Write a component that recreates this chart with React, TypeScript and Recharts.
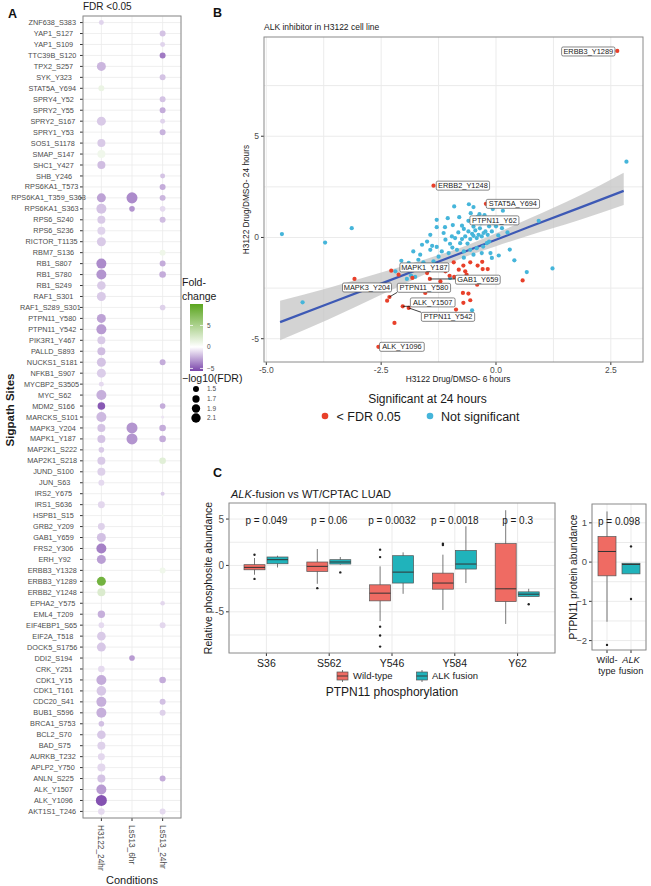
import React from "react"
import {
  ScatterChart,
  Scatter,
  ComposedChart,
  Area,
  Line,
  Bar,
  XAxis,
  YAxis,
  ZAxis,
  CartesianGrid,
  Cell,
  ReferenceDot,
} from "recharts"

const FONT = "'Liberation Sans', Arial, Helvetica, sans-serif"
const GRID = "#ebebeb"
const BORDER = "#8a8a8a"
const TICK_TEXT = "#4d4d4d"
const SIG_RED = "#e8402a"
const NS_CYAN = "#45b5da"
const WT_COLOR = "#ef6b63"
const ALK_COLOR = "#20b3bb"

// ---------------- A: sigpath sites by condition ----------------
const conditions = ["H3122_24hr", "Ls513_6hr", "Ls513_24hr"]

const sites = [
  "ZNF638_S383", "YAP1_S127", "YAP1_S109", "TTC39B_S120", "TPX2_S257",
  "SYK_Y323", "STAT5A_Y694", "SPRY4_Y52", "SPRY2_Y55", "SPRY2_S167",
  "SPRY1_Y53", "SOS1_S1178", "SMAP_S147", "SHC1_Y427", "SHB_Y246",
  "RPS6KA1_T573", "RPS6KA1_T359_S363", "RPS6KA1_S363", "RPS6_S240", "RPS6_S236",
  "RICTOR_T1135", "RBM7_S136", "RB1_S807", "RB1_S780", "RB1_S249",
  "RAF1_S301", "RAF1_S289_S301", "PTPN11_Y580", "PTPN11_Y542", "PIK3R1_Y467",
  "PALLD_S893", "NUCKS1_S181", "NFKB1_S907", "MYCBP2_S3505", "MYC_S62",
  "MDM2_S166", "MARCKS_S101", "MAPK3_Y204", "MAPK1_Y187", "MAP2K1_S222",
  "MAP2K1_S218", "JUND_S100", "JUN_S63", "IRS2_Y675", "IRS1_S636",
  "HSPB1_S15", "GRB2_Y209", "GAB1_Y659", "FRS2_Y306", "ERH_Y92",
  "ERBB3_Y1328", "ERBB3_Y1289", "ERBB2_Y1248", "EPHA2_Y575", "EML4_T209",
  "EIF4EBP1_S65", "EIF2A_T518", "DOCK5_S1756", "DDI2_S194", "CRK_Y251",
  "CDK1_Y15", "CDK1_T161", "CDC20_S41", "BUB1_S596", "BRCA1_S753",
  "BCL2_S70", "BAD_S75", "AURKB_T232", "APLP2_Y750", "ANLN_S225",
  "ALK_Y1507", "ALK_Y1096", "AKT1S1_T246",
]

// fold-change per site (null = not significant)
const h3122FC = [
  -1.3, null, null, null, -2.2,
  null, 1.2, null, null, -1.6,
  null, -1.6, 0.9, -2.0, null,
  null, -2.8, -1.8, -1.6, -1.3,
  -1.6, null, -3.5, -3.2, -1.6,
  -1.6, null, -2.8, -3.0, -1.6,
  -2.0, -1.8, -1.5, -1.1, -2.4,
  -5.0, -2.1, -1.8, -1.8, -1.6,
  -1.6, -1.4, -1.1, null, -1.2,
  null, -1.4, -1.9, -3.8, -2.9,
  null, 8.5, 2.2, null, -2.4,
  -1.1, -1.6, -1.7, null, -1.1,
  -2.5, -1.7, -2.4, -2.4, -1.9,
  -1.7, -1.4, -1.2, -1.2, -1.8,
  -3.0, -5.2, -1.1,
]
// -log10(FDR)
const h3122Size = [
  1.37, null, null, null, 2.03,
  null, 1.5, null, null, 2.03,
  null, 1.83, 1.83, 1.83, null,
  null, 2.03, 2.25, 1.83, 1.83,
  2.03, null, 2.25, 2.25, 1.95,
  2.03, null, 2.03, 2.25, 1.83,
  1.83, 2.03, 2.03, 1.37, 2.25,
  1.76, 2.25, 1.83, 1.83, 1.45,
  1.83, 1.83, 1.5, null, 1.65,
  null, 1.65, 2.03, 2.25, 2.03,
  null, 2.03, 1.83, null, 1.72,
  1.45, 1.95, 2.03, null, 1.59,
  2.25, 2.16, 2.25, 2.25, 1.45,
  1.95, 1.83, 1.65, 1.83, 1.83,
  2.25, 2.5, 1.59,
]
const ls6FC = [
  null, null, null, null, null,
  null, null, null, null, null,
  null, null, null, null, null,
  null, -3.5, -3.2, null, null,
  null, null, null, null, null,
  null, null, null, null, null,
  null, null, null, null, null,
  null, null, -3.2, -3.2, null,
  null, null, null, null, null,
  null, null, null, null, null,
  null, null, null, null, null,
  null, null, null, -3.0, null,
  null, null, null, null, null,
  null, null, null, null, null,
  null, null, null,
]
const ls6Size = [
  null, null, null, null, null,
  null, null, null, null, null,
  null, null, null, null, null,
  null, 2.5, 1.45, null, null,
  null, null, null, null, null,
  null, null, null, null, null,
  null, null, null, null, null,
  null, null, 2.5, 2.5, null,
  null, null, null, null, null,
  null, null, null, null, null,
  null, null, null, null, null,
  null, null, null, 1.45, null,
  null, null, null, null, null,
  null, null, null, null, null,
  null, null, null,
]
const ls24FC = [
  null, -1.8, -1.3, -4.0, null,
  -1.8, null, -1.8, -2.5, -1.3,
  -2.3, null, null, null, -1.8,
  -2.5, -2.2, -1.1, -2.0, null,
  null, 1.0, -2.5, -2.5, null,
  null, -1.4, null, null, null,
  null, -2.5, null, null, null,
  -2.5, -0.8, -2.5, -2.5, null,
  1.8, null, null, -1.5, null,
  0.5, null, null, null, null,
  0.9, null, null, -1.2, null,
  -1.2, null, null, null, null,
  -2.5, null, -1.9, -1.4, null,
  null, null, null, null, -2.5,
  null, null, -1.1,
]
const ls24Size = [
  null, 1.5, 1.37, 1.5, null,
  1.5, null, 1.5, 1.5, 1.37,
  1.5, null, null, null, 1.37,
  1.5, 1.5, 1.45, 1.5, null,
  null, 1.5, 1.5, 1.59, null,
  null, 1.45, null, null, null,
  null, 1.5, null, null, null,
  1.45, 1.19, 1.59, 1.59, null,
  1.59, null, null, 1.27, null,
  1.13, null, null, null, null,
  1.5, null, null, 1.33, null,
  1.5, null, null, null, null,
  1.59, null, 1.5, 1.5, null,
  null, null, null, null, 1.5,
  null, null, 1.5,
]
const sizeLegend = [1.5, 1.7, 1.9, 2.1]
const fcLegend = [5, 0, -5]

// ---------------- B: 6h vs 24h scatter ----------------
const sigPoints = [
  [2.64, 9.21], [-1.36, 2.56], [-0.22, 1.66], [-3.08, -2.05], [-2.28, -1.64],
  [-2.12, -1.84], [-2.37, -3.12], [-2.32, -2.94], [-2.03, -3.4], [-1.9, -3.48],
  [-2.21, -4.22], [-2.56, -5.4], [-1.5, -1.76], [-1.44, -2.05], [-1.82, -2.0],
  [-1.21, -2.17], [-1.07, -1.56], [-1.01, -1.89], [-0.91, -1.95], [-0.81, -1.59],
  [-0.71, -1.39], [-0.67, -1.67], [-0.64, -1.84], [-0.56, -1.23], [-0.4, -1.39],
  [-0.3, -1.2], [-0.29, -1.56], [-0.18, -1.56], [-0.41, -2.33], [-0.72, -2.74],
  [-0.6, -2.77], [-0.71, -3.23], [-0.56, -3.1], [-0.87, -3.56], [0.58, -2.12],
  [-1.54, -2.74], [-1.2, -1.59], [-0.92, -1.23], [-1.1, -1.67],
]
const nsPoints = [
  [-4.66, 0.17], [-3.72, -0.25], [-3.14, 0.46], [-4.21, -3.2], [2.84, 3.74],
  [-0.91, 1.53], [-0.59, 1.64], [-0.49, 1.5], [-0.36, 1.15], [-0.07, 1.4], [0.15, 1.32],
  [-1.29, 0.87], [-0.6, 0.82], [-1.29, 0.51], [-1.11, 0.51], [-0.94, 0.61], [-0.74, 0.58],
  [-0.49, 0.54], [-0.33, 0.7], [-0.05, 0.71], [0.13, 0.46], [-0.23, 0.3], [-0.09, 0.3],
  [0.93, 0.82], [-0.2, 0.87], [-1.1, -0.11], [-0.89, -0.03], [-0.74, -0.08], [-0.67, 0.05],
  [-0.56, -0.08], [-0.49, 0.08], [-0.42, -0.03], [-0.38, 0.13], [-0.31, 0.05], [-0.27, 0.22],
  [-0.18, 0.13], [-0.2, -0.28], [-0.78, -0.28], [-1.0, -0.31], [-1.39, -0.41], [-1.61, -0.36],
  [-1.43, -0.61], [-1.65, -0.85], [-1.8, -0.69], [-1.18, -0.69], [-1.03, -0.77], [-0.85, -0.61],
  [-0.7, -0.69], [-0.56, -0.61], [-0.49, -0.85], [-0.42, -0.53], [-0.31, -0.77], [-0.12, -0.77],
  [-0.09, -1.01], [0.06, -0.89], [0.4, -1.13], [0.67, -1.71], [1.23, -1.53], [-2.06, -1.15],
  [-1.58, -1.23], [-1.36, -1.18], [-2.19, -1.67], [-1.94, -2.05], [-1.76, -1.95], [-1.0, -2.0],
  [-0.52, -3.6], [-1.43, 0.13], [-1.14, 0.22], [-0.96, 0.05], [-1.29, -0.47], [-1.9, -1.26],
  [-1.69, -1.1], [-1.85, -1.88], [-0.82, 0.25], [-0.6, 0.3], [-0.45, 0.35], [-0.35, 0.45],
  [-0.15, 0.55], [0.05, 0.1], [-0.7, 0.42], [-0.52, 0.18], [-0.62, -0.3], [-0.28, -0.45],
  [-0.95, -0.5], [-1.25, -0.95], [-0.15, -0.2], [0.25, 0.25], [-0.8, 1.0], [-1.05, 0.95],
  [-0.4, 1.02], [0.3, -0.6], [-0.55, 1.2], [-0.7, -1.0], [-1.5, -0.2], [0.0, 0.55], [-0.25, 1.1],
]
const labelledSites = [
  "ERBB3_Y1289", "ERBB2_Y1248", "STAT5A_Y694", "PTPN11_Y62", "MAPK1_Y187", "MAPK3_Y204",
  "GAB1_Y659", "PTPN11_Y580", "ALK_Y1507", "PTPN11_Y542", "ALK_Y1096",
]
const labelledX = [2.64, -1.36, -0.22, -0.6, -2.12, -3.08, -1.44, -2.32, -2.03, -1.9, -2.56]
const labelledY = [9.21, 2.56, 1.66, 0.82, -1.84, -2.05, -2.05, -2.94, -3.4, -3.48, -5.4]

// linear fit with 95% band
const fitX = [-4.7, -3.65, -2.5, -1.5, -0.8, 0, 0.7, 1.8, 2.78]
const fitY = [-4.18, -3.27, -2.28, -1.41, -0.8, -0.11, 0.5, 1.45, 2.3]
const fitLow = [-5.08, -4.05, -2.83, -1.77, -1.07, -0.43, 0.09, 0.85, 1.6]
const fitHigh = [-3.12, -2.49, -1.73, -1.05, -0.53, 0.21, 0.91, 2.05, 3.2]

// ---------------- C: CPTAC boxplots ----------------
const phosphoSites = ["S36", "S562", "Y546", "Y584", "Y62"]
// [lower whisker, q1, median, q3, upper whisker]
const wildTypeStats = [
  [-1.0, -0.47, -0.21, 0.08, 0.8],
  [-1.98, -0.65, -0.1, 0.37, 1.77],
  [-6.0, -3.82, -2.99, -2.09, -0.1],
  [-4.8, -2.56, -1.9, -0.83, 1.16],
  [-6.31, -3.9, -2.52, 2.35, 5.95],
]
const wildTypeOutliers = [[1.15, -1.45], [-2.45], [1.7, 0.9, -6.6, -7.55, -8.75], [2.35, 2.2], []]
const fusionStats = [
  [-0.22, 0.18, 0.62, 0.91, 1.05],
  [0.08, 0.15, 0.37, 0.62, 0.91],
  [-3.06, -1.9, -0.72, 1.05, 1.41],
  [-1.9, -0.39, 0.15, 1.62, 4.22],
  [-3.35, -3.35, -3.1, -2.85, -2.52],
]
const fusionOutliers = [[], [-0.75], [], [], [-4.18]]
const pValues = ["p = 0.049", "p = 0.06", "p = 0.0032", "p = 0.0018", "p = 0.3"]

const proteinGroups = ["Wild-type", "ALK fusion"]
const proteinStats = [
  [-1.52, -0.35, 0.27, 0.65, 1.29],
  [-0.3, -0.3, -0.06, -0.03, -0.03],
]
const proteinOutliers = [[-2.11], [0.4, -0.94]]
const proteinP = "p = 0.098"

// plot boxes (page pixels)
const A_BOX = { x: 83, y: 16, w: 98, h: 802 }
const B_BOX = { x: 264, y: 37, w: 379, h: 325 }
const C_BOX = { x: 229, y: 503, w: 326, h: 150 }
const P_BOX = { x: 592, y: 504, w: 54, h: 146 }

// fold-change colour scale: purple - white - green
const PURPLE = [122, 69, 171]
const GREEN = [90, 165, 30]
const FC_MIN = -5.6
const FC_MAX = 10
function fcColor(fc: number) {
  const end = fc < 0 ? PURPLE : GREEN
  const t = fc < 0 ? Math.min(1, fc / FC_MIN) : Math.min(1, fc / FC_MAX)
  const c = end.map((e) => Math.round(255 + (e - 255) * t))
  return `rgb(${c.join(",")})`
}

// size scale (-log10 FDR -> symbol area)
const SIZE_DOMAIN = [1.1, 2.6]
const SIZE_RANGE = [1.35, 101.8]
function sizeRadius(v: number) {
  const area = SIZE_RANGE[0] + ((v - SIZE_DOMAIN[0]) / (SIZE_DOMAIN[1] - SIZE_DOMAIN[0])) * (SIZE_RANGE[1] - SIZE_RANGE[0])
  return Math.sqrt(area / Math.PI)
}

const fcSets = [h3122FC, ls6FC, ls24FC]
const sizeSets = [h3122Size, ls6Size, ls24Size]
const dotData: { col: number; row: number; fc: number; size: number }[] = []
fcSets.forEach((fcs, c) => {
  fcs.forEach((fc, r) => {
    if (fc !== null) dotData.push({ col: c + 1, row: r + 1, fc, size: sizeSets[c][r] as number })
  })
})

function SiteTick(props: any) {
  const label = sites[props.payload.value - 1]
  const w = label.length * 4.4
  return (
    <text x={props.x - 19 - 0.14 * w} y={props.y} dy="0.35em" textAnchor="middle" fontSize={7.3} fill={TICK_TEXT}>
      {label}
    </text>
  )
}

function ConditionTick(props: any) {
  const y = props.y + 1
  return (
    <text
      x={props.x}
      y={y}
      transform={`rotate(90 ${props.x} ${y})`}
      textAnchor="start"
      dominantBaseline="central"
      fontSize={8.3}
      fill={TICK_TEXT}
    >
      {conditions[props.payload.value - 1]}
    </text>
  )
}

function DotPlot() {
  return (
    <ScatterChart width={190} height={886} margin={{ top: A_BOX.y, right: 190 - A_BOX.x - A_BOX.w, left: 0, bottom: 0 }}>
      <CartesianGrid stroke={GRID} strokeWidth={0.8} />
      <XAxis
        type="number"
        dataKey="col"
        domain={[0.4, 3.6]}
        ticks={[1, 2, 3]}
        interval={0}
        allowDataOverflow
        height={886 - A_BOX.y - A_BOX.h}
        tickSize={3}
        tickMargin={3}
        axisLine={false}
        tickLine={{ stroke: "#333" }}
        tick={<ConditionTick />}
      />
      <YAxis
        type="number"
        dataKey="row"
        domain={[0.4, sites.length + 0.6]}
        ticks={sites.map((_, i) => i + 1)}
        interval={0}
        reversed
        allowDataOverflow
        width={A_BOX.x}
        tickSize={3}
        axisLine={false}
        tickLine={{ stroke: "#333" }}
        tick={<SiteTick />}
      />
      <ZAxis type="number" dataKey="size" domain={SIZE_DOMAIN} range={SIZE_RANGE} />
      <Scatter data={dotData} isAnimationActive={false}>
        {dotData.map((d, i) => (
          <Cell key={i} fill={fcColor(d.fc)} />
        ))}
      </Scatter>
    </ScatterChart>
  )
}

// ---------------- B ----------------
const bandRows = fitX.map((x, i) => ({ x, band: [fitLow[i], fitHigh[i]], fit: fitY[i] }))
const sigData = sigPoints.map(([x, y]) => ({ x, y }))
const nsData = nsPoints.map(([x, y]) => ({ x, y }))
const labelData = labelledSites.map((site, i) => ({ site, x: labelledX[i], y: labelledY[i] }))

// label box offsets from the point (px)
const labelOffsets: Record<string, [number, number]> = {
  ERBB3_Y1289: [-29, 0.5],
  ERBB2_Y1248: [29.4, 0],
  STAT5A_Y694: [27, 0],
  PTPN11_Y62: [26, -0.5],
  MAPK1_Y187: [25.8, -7.3],
  MAPK3_Y204: [12.5, 8.5],
  GAB1_Y659: [48, 0.7],
  PTPN11_Y580: [34.5, -9.2],
  ALK_Y1507: [30, -3.9],
  PTPN11_Y542: [39.3, 8.9],
  ALK_Y1096: [23.5, 0],
}

function SiteLabel(props: any) {
  const name = props.payload.site
  const [dx, dy] = labelOffsets[name]
  const w = name.length * 4.3 + 6
  const h = 9
  const bx = props.cx + dx
  const by = props.cy + dy
  const ex = Math.max(bx - w / 2, Math.min(props.cx, bx + w / 2))
  const ey = Math.max(by - h / 2, Math.min(props.cy, by + h / 2))
  const seg = Math.hypot(ex - props.cx, ey - props.cy) > 4
  return (
    <g>
      {seg && <line x1={props.cx} y1={props.cy} x2={ex} y2={ey} stroke="#111" strokeWidth={0.8} />}
      <rect x={bx - w / 2} y={by - h / 2} width={w} height={h} rx={1.5} fill="#fff" stroke="#555" strokeWidth={0.7} />
      <text x={bx} y={by} dy="0.35em" textAnchor="middle" fontSize={7.4} fill="#1a1a1a">
        {name}
      </text>
    </g>
  )
}

function TimeScatter() {
  const W = 451
  const H = 380
  return (
    <ComposedChart
      width={W}
      height={H}
      data={bandRows}
      margin={{ top: B_BOX.y - 20, right: W - (B_BOX.x - 200) - B_BOX.w, left: 0, bottom: 0 }}
    >
      <CartesianGrid
        stroke={GRID}
        verticalValues={[-5, -3.75, -2.5, -1.25, 0, 1.25, 2.5]}
        horizontalValues={[-5, -2.5, 0, 2.5, 5, 7.5]}
      />
      <XAxis
        type="number"
        dataKey="x"
        domain={[-5.05, 3.2]}
        ticks={[-5, -2.5, 0, 2.5]}
        tickFormatter={(v: number) => v.toFixed(1)}
        allowDataOverflow
        height={H - (B_BOX.y - 20) - B_BOX.h}
        tickSize={3}
        tickMargin={2}
        axisLine={false}
        tickLine={{ stroke: "#333" }}
        tick={{ fontSize: 8.5, fill: TICK_TEXT }}
      />
      <YAxis
        type="number"
        domain={[-6.15, 9.9]}
        ticks={[-5, 0, 5]}
        allowDataOverflow
        width={B_BOX.x - 200}
        tickSize={3}
        tickMargin={2}
        axisLine={false}
        tickLine={{ stroke: "#333" }}
        tick={{ fontSize: 8.5, fill: TICK_TEXT }}
      />
      <ZAxis range={[14, 14]} />
      <Area dataKey="band" type="monotone" stroke="none" fill="#c4c4c4" fillOpacity={0.75} isAnimationActive={false} />
      <Line dataKey="fit" type="linear" stroke="#3d59b5" strokeWidth={2.2} dot={false} isAnimationActive={false} />
      <Scatter data={nsData} dataKey="y" fill={NS_CYAN} isAnimationActive={false} />
      <Scatter data={sigData} dataKey="y" fill={SIG_RED} isAnimationActive={false} />
      <Scatter data={labelData} dataKey="y" shape={<SiteLabel />} isAnimationActive={false} />
    </ComposedChart>
  )
}

// ---------------- C ----------------
const boxShape = (statsKey: string, outKey: string, color: string | ((i: number) => string)) => (p: any) => {
  const [lw, q1, med, q3, uw] = p.payload[statsKey]
  const top = Math.min(p.y, p.y + p.height)
  const bottom = Math.max(p.y, p.y + p.height)
  const k = (bottom - top) / (q3 - q1)
  const yOf = (v: number) => top + (q3 - v) * k
  const cx = p.x + p.width / 2
  const fill = typeof color === "string" ? color : color(p.index)
  return (
    <g>
      <line x1={cx} x2={cx} y1={yOf(uw)} y2={yOf(lw)} stroke="#555" strokeWidth={0.8} />
      <rect x={p.x} y={top} width={p.width} height={Math.max(bottom - top, 0.5)} fill={fill} stroke="#555" strokeWidth={0.7} />
      <line x1={p.x} x2={p.x + p.width} y1={yOf(med)} y2={yOf(med)} stroke="#333" strokeWidth={1} />
      {p.payload[outKey].map((v: number, i: number) => (
        <circle key={i} cx={cx} cy={yOf(v)} r={1.2} fill="#222" />
      ))}
    </g>
  )
}

const phosphoRows = phosphoSites.map((site, i) => ({
  site,
  wt: wildTypeStats[i],
  wtOut: wildTypeOutliers[i],
  wtBox: [wildTypeStats[i][1], wildTypeStats[i][3]],
  alk: fusionStats[i],
  alkOut: fusionOutliers[i],
  alkBox: [fusionStats[i][1], fusionStats[i][3]],
}))

function PhosphoBoxes() {
  const W = 360
  const H = 200
  const top = C_BOX.y - 480
  return (
    <ComposedChart
      width={W}
      height={H}
      data={phosphoRows}
      barGap={2}
      margin={{ top, right: W - (C_BOX.x - 200) - C_BOX.w, left: 0, bottom: 0 }}
    >
      <CartesianGrid stroke={GRID} horizontalValues={[-7.5, -5, -2.5, 0, 2.5, 5]} />
      <XAxis
        dataKey="site"
        type="category"
        interval={0}
        padding={{ left: 6, right: 6 }}
        height={H - top - C_BOX.h}
        tickSize={3}
        tickMargin={4}
        axisLine={false}
        tickLine={{ stroke: "#333" }}
        tick={{ fontSize: 10.5, fill: "#1a1a1a" }}
      />
      <YAxis
        type="number"
        domain={[-9.44, 6.73]}
        ticks={[-5, 0, 5]}
        allowDataOverflow
        width={C_BOX.x - 200}
        tickSize={3}
        tickMargin={2}
        axisLine={false}
        tickLine={{ stroke: "#333" }}
        tick={{ fontSize: 10, fill: TICK_TEXT }}
      />
      <Bar dataKey="wtBox" barSize={21} shape={boxShape("wt", "wtOut", WT_COLOR)} isAnimationActive={false} />
      <Bar dataKey="alkBox" barSize={21} shape={boxShape("alk", "alkOut", ALK_COLOR)} isAnimationActive={false} />
      {pValues.map((p, i) => (
        <ReferenceDot
          key={p}
          x={phosphoSites[i]}
          y={4.84}
          r={0}
          fill="none"
          stroke="none"
          label={{ value: p, position: "center", fontSize: 10, fill: "#1a1a1a" }}
        />
      ))}
    </ComposedChart>
  )
}

const proteinRows = proteinGroups.map((group, i) => ({
  group,
  stats: proteinStats[i],
  out: proteinOutliers[i],
  box: [proteinStats[i][1], proteinStats[i][3]],
}))

function ProteinTick(props: any) {
  const fusion = props.payload.value === "ALK fusion"
  return (
    <text x={props.x} y={props.y} textAnchor="middle" fontSize={9.2} fill="#1a1a1a">
      <tspan x={props.x} dy="0.71em" fontStyle={fusion ? "italic" : "normal"}>
        {fusion ? "ALK" : "Wild-"}
      </tspan>
      <tspan x={props.x} dy="1.25em">
        {fusion ? "fusion" : "type"}
      </tspan>
    </text>
  )
}

function ProteinBoxes() {
  const W = 91
  const H = 200
  const top = P_BOX.y - 480
  return (
    <ComposedChart
      width={W}
      height={H}
      data={proteinRows}
      margin={{ top, right: W - (P_BOX.x - 560) - P_BOX.w, left: 0, bottom: 0 }}
    >
      <CartesianGrid stroke={GRID} horizontalValues={[-2, -1.5, -1, -0.5, 0, 0.5, 1]} />
      <XAxis
        dataKey="group"
        type="category"
        interval={0}
        padding={{ left: 3, right: 3 }}
        height={H - top - P_BOX.h}
        tickSize={3}
        tickMargin={3}
        axisLine={false}
        tickLine={{ stroke: "#333" }}
        tick={<ProteinTick />}
      />
      <YAxis
        type="number"
        domain={[-2.24, 1.48]}
        ticks={[-2, -1, 0, 1]}
        interval={0}
        tickFormatter={(v: number) => (v < 0 ? `\u2212${-v}` : `${v}`)}
        allowDataOverflow
        width={P_BOX.x - 560}
        tickSize={3}
        tickMargin={2}
        axisLine={false}
        tickLine={{ stroke: "#333" }}
        tick={{ fontSize: 9.5, fill: TICK_TEXT }}
      />
      <Bar
        dataKey="box"
        barSize={18}
        shape={boxShape("stats", "out", (i) => (i === 0 ? WT_COLOR : ALK_COLOR))}
        isAnimationActive={false}
      />
    </ComposedChart>
  )
}

// ---------------- titles, legends, frames ----------------
function Frame({ b }: { b: { x: number; y: number; w: number; h: number } }) {
  return <rect x={b.x} y={b.y} width={b.w} height={b.h} fill="none" stroke={BORDER} strokeWidth={1} />
}

function Overlay() {
  const barTop = 304
  const barH = 67
  const fcY = (v: number) => barTop + ((FC_MAX - v) / (FC_MAX - FC_MIN)) * barH
  const whiteStop = (FC_MAX / (FC_MAX - FC_MIN)) * 100
  const sizeY = [389, 399, 408.5, 418]
  return (
    <svg width={651} height={886} style={{ position: "absolute", left: 0, top: 0, pointerEvents: "none" }}>
      <defs>
        <linearGradient id="fcbar" x1="0" y1="0" x2="0" y2="1">
          <stop offset="0%" stopColor={fcColor(FC_MAX)} />
          <stop offset={`${whiteStop}%`} stopColor="#ffffff" />
          <stop offset="100%" stopColor={fcColor(FC_MIN)} />
        </linearGradient>
      </defs>
      <Frame b={A_BOX} />
      <Frame b={B_BOX} />
      <Frame b={C_BOX} />
      <Frame b={P_BOX} />

      {/* A */}
      <text x={8} y={18} fontSize={12.5} fontWeight="bold" fill="#111">A</text>
      <text x={83} y={10} fontSize={10} fill="#1a1a1a">FDR &lt;0.05</text>
      <text x={0} y={0} transform="translate(13.5 410) rotate(-90)" textAnchor="middle" fontSize={11.5} fontWeight="bold" fill="#1a1a1a">
        Sigpath Sites
      </text>
      <text x={132} y={884} textAnchor="middle" fontSize={11} fill="#1a1a1a">Conditions</text>
      <text x={182} y={286} fontSize={10.5} fill="#1a1a1a">Fold-</text>
      <text x={182} y={299.5} fontSize={10.5} fill="#1a1a1a">change</text>
      <rect x={190} y={barTop} width={13} height={barH} fill="url(#fcbar)" />
      {fcLegend.map((v) => (
        <g key={v}>
          <line x1={190} x2={193} y1={fcY(v)} y2={fcY(v)} stroke="#fff" strokeWidth={0.8} />
          <line x1={200} x2={203} y1={fcY(v)} y2={fcY(v)} stroke="#fff" strokeWidth={0.8} />
          <text x={207} y={fcY(v)} dy="0.35em" fontSize={6.5} fill={TICK_TEXT}>
            {v < 0 ? `\u2212${-v}` : v}
          </text>
        </g>
      ))}
      <text x={182} y={382} fontSize={10.5} fill="#1a1a1a">{"\u2212log10(FDR)"}</text>
      {sizeLegend.map((v, i) => (
        <g key={v}>
          <circle cx={196} cy={sizeY[i]} r={sizeRadius(v)} fill="#000" />
          <text x={207} y={sizeY[i]} dy="0.35em" fontSize={6.5} fill={TICK_TEXT}>
            {v.toFixed(1)}
          </text>
        </g>
      ))}

      {/* B */}
      <text x={213} y={17} fontSize={12.5} fontWeight="bold" fill="#111">B</text>
      <text x={264} y={30} fontSize={8.5} fill="#1a1a1a">ALK inhibitor in H3122 cell line</text>
      <text x={0} y={0} transform="translate(249 199.5) rotate(-90)" textAnchor="middle" fontSize={8.3} fill="#1a1a1a">
        H3122 Drug/DMSO- 24 hours
      </text>
      <text x={458} y={381.5} textAnchor="middle" fontSize={8.3} fill="#1a1a1a">H3122 Drug/DMSO- 6 hours</text>
      <text x={427.5} y={403} textAnchor="middle" fontSize={12} fill="#1a1a1a">Significant at 24 hours</text>
      <circle cx={325} cy={416} r={3.3} fill={SIG_RED} />
      <text x={336.5} y={420.5} fontSize={12.5} fill="#1a1a1a">&lt; FDR 0.05</text>
      <circle cx={430} cy={416} r={3.3} fill={NS_CYAN} />
      <text x={441} y={420.5} fontSize={12.5} fill="#1a1a1a">Not significant</text>

      {/* C */}
      <text x={213} y={477} fontSize={12.5} fontWeight="bold" fill="#111">C</text>
      <text x={231} y={497.5} fontSize={11} fill="#1a1a1a">
        <tspan fontStyle="italic">ALK</tspan>
        <tspan>-fusion vs WT/CPTAC LUAD</tspan>
      </text>
      <text x={0} y={0} transform="translate(211.5 578) rotate(-90)" textAnchor="middle" fontSize={10.5} fill="#1a1a1a">
        Relative phosphosite abundance
      </text>
      <text x={0} y={0} transform="translate(577 577) rotate(-90)" textAnchor="middle" fontSize={10.2} fill="#1a1a1a">
        PTPN11 protein abundance
      </text>
      <text x={619} y={521.5} dy="0.35em" textAnchor="middle" fontSize={10} fill="#1a1a1a">{proteinP}</text>
      <g>
        <line x1={342.5} x2={342.5} y1={670} y2={682} stroke="#555" strokeWidth={0.8} />
        <rect x={337} y={672} width={11} height={8} fill={WT_COLOR} stroke="#555" strokeWidth={0.7} />
        <line x1={337} x2={348} y1={676} y2={676} stroke="#333" strokeWidth={0.9} />
        <text x={353} y={676} dy="0.35em" fontSize={9.5} fill="#1a1a1a">Wild-type</text>
        <line x1={422} x2={422} y1={670} y2={682} stroke="#555" strokeWidth={0.8} />
        <rect x={416.5} y={672} width={11} height={8} fill={ALK_COLOR} stroke="#555" strokeWidth={0.7} />
        <line x1={416.5} x2={427.5} y1={676} y2={676} stroke="#333" strokeWidth={0.9} />
        <text x={432} y={676} dy="0.35em" fontSize={9.5} fill="#1a1a1a">ALK fusion</text>
      </g>
      <text x={392} y={696} textAnchor="middle" fontSize={12} fill="#1a1a1a">PTPN11 phosphorylation</text>
    </svg>
  )
}

export default function App() {
  return (
    <div
      style={{
        position: "absolute",
        left: 0,
        top: 0,
        width: 651,
        height: 886,
        background: "#fff",
        fontFamily: FONT,
        overflow: "hidden",
      }}
    >
      <div style={{ position: "absolute", left: 0, top: 0 }}>
        <DotPlot />
      </div>
      <div style={{ position: "absolute", left: 200, top: 20 }}>
        <TimeScatter />
      </div>
      <div style={{ position: "absolute", left: 200, top: 480 }}>
        <PhosphoBoxes />
      </div>
      <div style={{ position: "absolute", left: 560, top: 480 }}>
        <ProteinBoxes />
      </div>
      <Overlay />
    </div>
  )
}
